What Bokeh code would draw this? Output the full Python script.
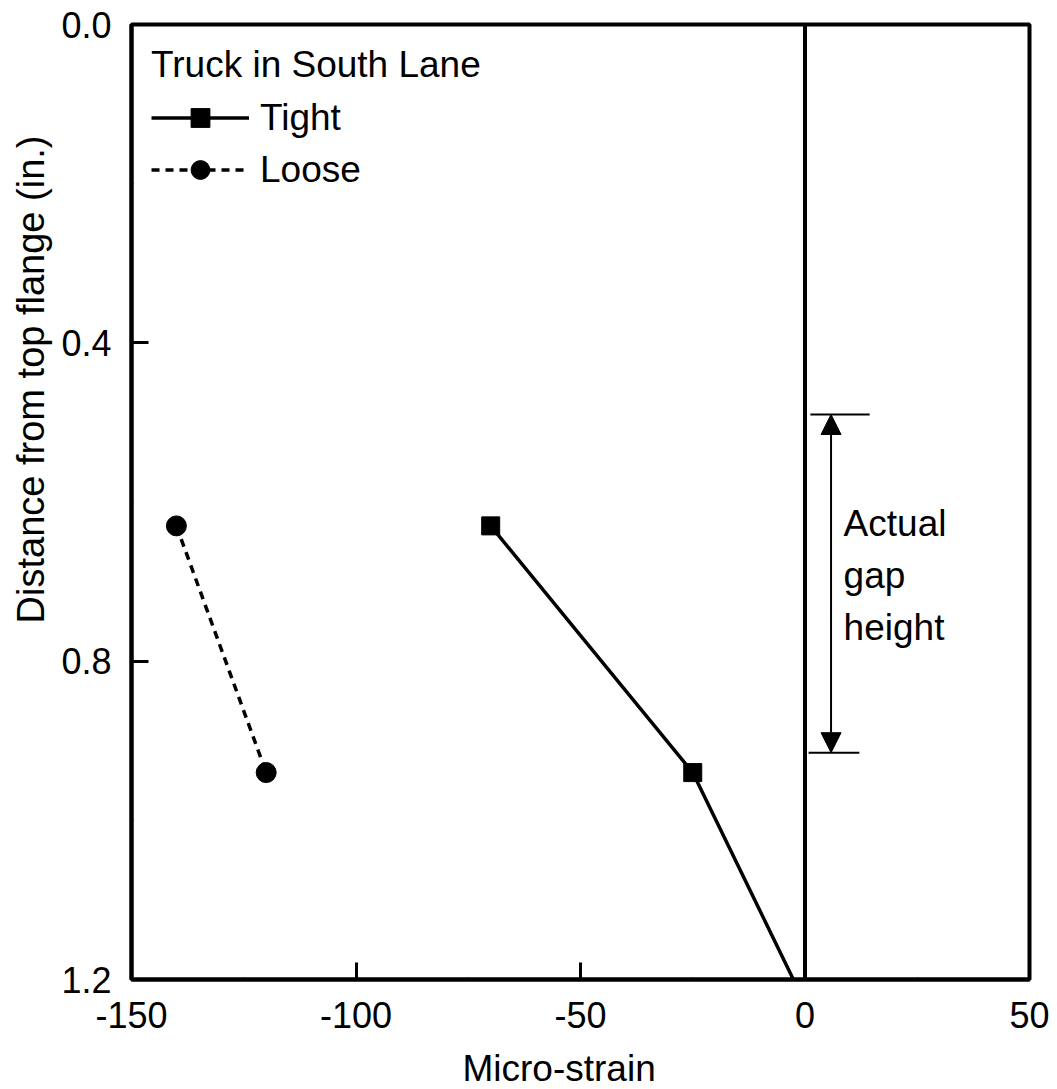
from bokeh.plotting import figure
from bokeh.models import (Range1d, FixedTicker, PrintfTickFormatter, Span, Title,
                          Legend, LegendItem, Arrow, NormalHead)
from bokeh.embed import file_html
from bokeh.resources import INLINE
from bokeh.core.properties import value

FONT = "Liberation Sans"

# ---- data ----
strain_tight = [-70, -25, 0]
depth_tight = [0.63, 0.94, 1.23]
strain_loose = [-140, -120]
depth_loose = [0.63, 0.94]

x_ticks = [-150, -100, -50, 0, 50]
x_minor = [-125, -75, -25, 25]
y_ticks = [0.0, 0.4, 0.8, 1.2]
y_minor = [0.2, 0.6, 1.0]

gap_top = 0.49
gap_bottom = 0.915
gap_x = 5.8
gap_seg_x0 = [1.2, 0.8]
gap_seg_x1 = [14.4, 12.1]
gap_text = ["Actual", "gap", "height"]
gap_text_x = [8.6, 8.6, 8.6]
gap_text_y = [0.627, 0.692, 0.758]

p = figure(frame_width=898, frame_height=955,
           x_range=Range1d(-150, 50), y_range=Range1d(1.2, 0.0),
           output_backend="svg", toolbar_location=None,
           min_border_left=131, min_border_top=24,
           min_border_right=24, min_border_bottom=108)
p.grid.visible = False
p.outline_line_color = "black"
p.outline_line_width = 4
p.background_fill_color = "white"
p.border_fill_color = "white"

for ax in (p.xaxis[0], p.yaxis[0]):
    ax.axis_line_width = 4
    ax.axis_line_color = "black"
    ax.major_tick_line_width = 3
    ax.major_tick_line_color = "black"
    ax.major_tick_in = 17
    ax.major_tick_out = 0
    ax.minor_tick_in = 2
    ax.minor_tick_out = 0
    ax.minor_tick_line_width = 1
    ax.minor_tick_line_color = "black"
    ax.major_label_text_font = FONT
    ax.major_label_text_font_size = "36px"
    ax.major_label_text_color = "black"

p.xaxis.ticker = FixedTicker(ticks=x_ticks, minor_ticks=x_minor)
p.yaxis.ticker = FixedTicker(ticks=y_ticks, minor_ticks=y_minor)
p.xaxis.formatter = PrintfTickFormatter(format="%d")
p.yaxis.formatter = PrintfTickFormatter(format="%.1f")
p.xaxis.major_label_standoff = 22
p.yaxis.major_label_standoff = 20

p.add_layout(Span(location=0, dimension="height", line_color="black", line_width=4))

lt = p.line(strain_tight, depth_tight, line_color="black", line_width=3.5)
st = p.scatter(strain_tight, depth_tight, marker="square", size=18, color="black")
ll = p.line(strain_loose, depth_loose, line_color="black", line_width=3.5, line_dash="8 6")
sl = p.scatter(strain_loose, depth_loose, marker="circle", size=20, color="black")

legend = Legend(items=[LegendItem(label="Tight", renderers=[lt, st]),
                       LegendItem(label="Loose", renderers=[ll, sl])],
                location="top_left", title="Truck in South Lane",
                title_text_font=FONT, title_text_font_size="37px",
                title_text_font_style="normal", title_text_color="black",
                label_text_font=FONT, label_text_font_size="37px",
                label_text_color="black",
                glyph_width=98, glyph_height=47, label_standoff=11,
                spacing=5, padding=0, margin=20, title_standoff=8,
                border_line_color=None, background_fill_alpha=0)
p.add_layout(legend)

# gap height annotation
p.segment(x0=gap_seg_x0, y0=[gap_top, gap_bottom], x1=gap_seg_x1, y1=[gap_top, gap_bottom],
          line_color="black", line_width=2)
p.add_layout(Arrow(start=NormalHead(size=20, fill_color="black", line_color="black"),
                   end=NormalHead(size=20, fill_color="black", line_color="black"),
                   x_start=gap_x, y_start=gap_bottom, x_end=gap_x, y_end=gap_top,
                   line_color="black", line_width=2))
p.text(x=gap_text_x, y=gap_text_y, text=gap_text, text_font=value(FONT),
       text_font_size="37px", text_baseline="alphabetic", text_align="left",
       text_color="black")

# axis titles
p.add_layout(Title(text="Micro-strain", align="left", offset=331,
                   text_font=FONT, text_font_size="37px", text_font_style="normal",
                   text_color="black", standoff=30), "below")
p.add_layout(Title(text="Distance from top flange (in.)", align="right", offset=111,
                   text_font=FONT, text_font_size="38px", text_font_style="normal",
                   text_color="black", standoff=14), "left")

open("out.html", "w").write(file_html(p, INLINE))
